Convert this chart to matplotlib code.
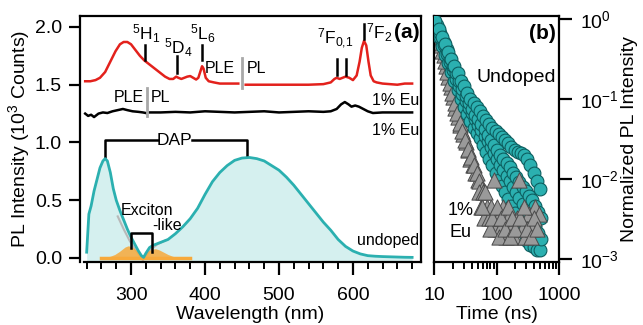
#!/usr/bin/env python3

import numpy as np
import matplotlib
matplotlib.use('Agg')
import matplotlib.pyplot as plt
from matplotlib.ticker import FixedLocator, MultipleLocator, NullLocator, FixedFormatter


# ---- panel (a): spectra ----
red_ple_wl = [238, 245, 252, 258, 265, 272, 279, 285, 290, 295, 300, 306, 312, 318, 322, 328, 334, 340,
              346, 352, 357, 361, 364, 368, 372, 376, 380, 384, 388, 391, 394, 396, 398, 401, 405, 412,
              420, 430, 445]
red_ple = [1.53, 1.53, 1.54, 1.56, 1.61, 1.70, 1.79, 1.85, 1.87, 1.87, 1.85, 1.80, 1.75, 1.71, 1.69, 1.66,
           1.63, 1.60, 1.57, 1.55, 1.55, 1.57, 1.56, 1.55, 1.56, 1.57, 1.575, 1.56, 1.545, 1.56, 1.62, 1.66,
           1.64, 1.56, 1.53, 1.52, 1.51, 1.51, 1.51]

red_pl_wl = [455, 480, 510, 540, 560, 570, 575, 578, 582, 586, 590, 595, 600, 605, 609, 612, 615, 618,
             621, 624, 628, 632, 640, 650, 660, 670, 680]
red_pl = [1.50, 1.50, 1.50, 1.50, 1.505, 1.52, 1.55, 1.56, 1.55, 1.56, 1.57, 1.56, 1.54, 1.58, 1.70, 1.82,
          1.88, 1.84, 1.70, 1.58, 1.53, 1.52, 1.51, 1.505, 1.50, 1.51, 1.51]

blk_ple_wl = [238, 242, 246, 250, 256, 262, 268, 275, 282, 289, 295, 302, 310, 316, 320]
blk_ple = [1.25, 1.23, 1.24, 1.22, 1.25, 1.26, 1.255, 1.27, 1.28, 1.29, 1.28, 1.27, 1.265, 1.26, 1.255]

blk_pl_wl = [325, 340, 360, 380, 400, 420, 440, 460, 480, 500, 520, 540, 560, 570, 578, 584, 589, 594,
             598, 603, 608, 614, 620, 627, 640, 660, 680]
blk_pl = [1.26, 1.26, 1.265, 1.26, 1.27, 1.265, 1.26, 1.265, 1.27, 1.26, 1.265, 1.27, 1.265, 1.27, 1.29,
          1.33, 1.35, 1.33, 1.31, 1.32, 1.31, 1.29, 1.27, 1.255, 1.26, 1.26, 1.26]

und_wl = [240, 243, 246, 250, 254, 258, 262, 265, 268, 272, 276, 280, 285, 290, 295, 300, 305, 310, 314,
          317, 320, 325, 330, 340, 350, 360, 370, 380, 390, 400, 410, 420, 430, 440, 450, 460, 470, 480,
          490, 500, 510, 520, 530, 540, 550, 560, 570, 580, 590, 600, 610, 620, 630, 640, 650, 660, 670, 680]
und = [0.05, 0.38, 0.45, 0.58, 0.68, 0.78, 0.84, 0.86, 0.84, 0.74, 0.60, 0.50, 0.41, 0.33, 0.25, 0.18,
       0.12, 0.06, 0.02, 0.005, 0.04, 0.09, 0.11, 0.135, 0.16, 0.21, 0.27, 0.34, 0.43, 0.55, 0.66, 0.74,
       0.80, 0.845, 0.865, 0.87, 0.86, 0.84, 0.80, 0.76, 0.70, 0.63, 0.55, 0.47, 0.39, 0.31, 0.24, 0.16,
       0.10, 0.06, 0.035, 0.02, 0.015, 0.012, 0.01, 0.008, 0.006, 0.005]

# faint grey fit lines under the exciton region
fit1_wl = [282, 290, 298, 306, 312, 316]
fit1 = [0.36, 0.25, 0.15, 0.07, 0.02, -0.02]
fit2_wl = [318, 326, 336, 346]
fit2 = [0.0, 0.07, 0.12, 0.15]

exc1_wl = [258, 265, 272, 278, 284, 288, 292, 296, 300, 304, 308, 312, 316, 320]
exc1 = [0.0, 0.005, 0.015, 0.03, 0.055, 0.075, 0.095, 0.105, 0.10, 0.085, 0.06, 0.035, 0.012, 0.0]
exc2_wl = [305, 312, 318, 323, 328, 333, 338, 344, 350, 356, 362, 370, 380]
exc2 = [0.0, 0.01, 0.035, 0.06, 0.075, 0.08, 0.07, 0.05, 0.03, 0.015, 0.005, 0.0, 0.0]

# ---- panel (b): decays ----
t_circ = [10.5, 12, 13.5, 15, 17, 19, 21, 24, 27, 30, 34, 38, 43, 48, 54, 61, 68, 77, 86, 97, 109, 122,
          137, 154, 173, 195, 219, 246, 276, 310, 349, 392, 440, 495]
t_circ2 = [11, 12.7, 14.3, 16, 18, 20, 22.5, 25.5, 28.5, 32, 36, 40.5, 45.5, 51, 57.5, 64.5, 72.5, 81.5,
           91.5, 103, 115, 129, 145, 163, 184, 207, 232, 261, 293, 330, 370, 416, 467, 520]
undoped_a = [0.95, 0.74, 0.6, 0.49, 0.39, 0.32, 0.26, 0.21, 0.17, 0.145, 0.12, 0.1, 0.088, 0.079, 0.071,
             0.062, 0.055, 0.049, 0.044, 0.04, 0.037, 0.034, 0.031, 0.028, 0.025, 0.023, 0.022, 0.021,
             0.02, 0.018, 0.015, 0.012, 0.0095, 0.0075]
undoped_b = [0.85, 0.66, 0.52, 0.42, 0.33, 0.26, 0.21, 0.17, 0.135, 0.11, 0.09, 0.075, 0.064, 0.056, 0.049,
             0.042, 0.036, 0.031, 0.027, 0.023, 0.02, 0.018, 0.016, 0.014, 0.012, 0.0105, 0.0092, 0.008,
             0.007, 0.0062, 0.0054, 0.0046, 0.0039, 0.0033]
undoped_c = [0.8, 0.6, 0.46, 0.36, 0.28, 0.22, 0.17, 0.13, 0.1, 0.08, 0.065, 0.053, 0.044, 0.038, 0.033,
             0.027, 0.022, 0.018, 0.015, 0.012, 0.0098, 0.0082, 0.0068, 0.0056, 0.0046, 0.0038, 0.0031,
             0.0025, 0.0021, 0.0017, 0.0015, 0.0014, 0.0013, 0.0013]
undoped_d = [0.78, 0.6, 0.47, 0.37, 0.29, 0.23, 0.18, 0.145, 0.115, 0.094, 0.078, 0.066, 0.056, 0.048,
             0.041, 0.035, 0.03, 0.025, 0.021, 0.018, 0.015, 0.013, 0.011, 0.0094, 0.008, 0.0068, 0.0058,
             0.0049, 0.0042, 0.0036, 0.003, 0.0025, 0.0021, 0.0018]

t_tri_a = [10.2, 11, 12, 13, 14.2, 15.5, 17, 18.5, 20, 22, 24, 26, 29, 32, 35, 38, 42, 46, 50]
eu_a = [1.0, 0.85, 0.62, 0.47, 0.36, 0.26, 0.19, 0.14, 0.105, 0.078, 0.06, 0.047, 0.037, 0.029, 0.023,
        0.018, 0.015, 0.012, 0.0098]
t_tri_b = [10.5, 11.5, 12.5, 13.6, 14.8, 16.2, 17.8, 19.5, 21.5, 23.5, 26, 28.5, 31.5, 35, 39, 43, 48, 53, 59]
eu_b = [0.9, 0.7, 0.52, 0.4, 0.3, 0.22, 0.16, 0.12, 0.088, 0.066, 0.05, 0.04, 0.031, 0.024, 0.019, 0.015,
        0.012, 0.0095, 0.0075]
t_tail_a = [52, 56, 60, 64, 70, 75, 82, 90, 96, 105, 115, 125, 140, 155, 170, 190, 210, 230, 260, 290,
            330, 370, 420, 470]
eu_tail_a = [0.0068, 0.0045, 0.0068, 0.0033, 0.0045, 0.0033, 0.0045, 0.0098, 0.0024, 0.0033, 0.0024,
             0.0045, 0.0019, 0.0033, 0.0024, 0.0019, 0.0033, 0.0098, 0.0024, 0.0019, 0.0037, 0.0024,
             0.0045, 0.0037]
t_tail_b = [58, 66, 78, 86, 100, 110, 120, 135, 150, 165, 180, 200, 240, 280, 310, 350, 400, 450]
eu_tail_b = [0.0045, 0.0068, 0.0024, 0.0033, 0.0045, 0.0019, 0.0033, 0.0024, 0.0045, 0.0019, 0.0033,
             0.0024, 0.0033, 0.0045, 0.0024, 0.0019, 0.0033, 0.0024]

a_yticks = [0.0, 0.5, 1.0, 1.5, 2.0]
a_xticks = [300, 400, 500, 600]
b_xticks = [10, 100, 1000]

TEAL = '#2bb0b0'
FILL = '#d5f0ef'
ORANGE = '#f7a93b'
RED = '#e3211c'
SEP = '#a8a8a8'

plt.rcParams['font.family'] = ['Liberation Sans', 'DejaVu Sans']
plt.rcParams['mathtext.fontset'] = 'custom'
plt.rcParams['mathtext.rm'] = 'Liberation Sans'
plt.rcParams['mathtext.it'] = 'Liberation Sans:italic'
plt.rcParams['mathtext.bf'] = 'Liberation Sans:bold'


def style_axes(ax):
    for s in ax.spines.values():
        s.set_linewidth(1.6)
    ax.tick_params(which='major', length=9, width=1.6, labelsize=14, direction='out', pad=5)
    ax.tick_params(which='minor', length=5, width=1.4, direction='out')
    ax.tick_params(axis='x', which='major', pad=9)


def panel_a(ax):
    ax.fill_between(und_wl, -0.05, und, color=FILL, lw=0, zorder=1)
    ax.plot(fit1_wl, fit1, color='#b8b8b8', lw=1.5, zorder=1.5)
    ax.plot(fit2_wl, fit2, color='#b8b8b8', lw=1.5, zorder=1.5)
    ax.fill_between(exc1_wl, 0, exc1, color=ORANGE, alpha=0.85, lw=0, zorder=2)
    ax.fill_between(exc2_wl, 0, exc2, color=ORANGE, alpha=0.85, lw=0, zorder=2)
    ax.plot([260, 380], [0, 0], color=ORANGE, lw=2.5, zorder=2)
    ax.plot(und_wl, und, color=TEAL, lw=2, zorder=3)

    ax.plot(red_ple_wl, red_ple, color=RED, lw=1.8)
    ax.plot(red_pl_wl, red_pl, color=RED, lw=1.8)
    ax.plot(blk_ple_wl, blk_ple, color='k', lw=1.8)
    ax.plot(blk_pl_wl, blk_pl, color='k', lw=1.8)

    # PLE | PL separators
    ax.plot([450, 450], [1.47, 1.73], color=SEP, lw=2)
    ax.text(441, 1.64, 'PLE', ha='right', va='center', fontsize=11.5)
    ax.text(457, 1.64, 'PL', ha='left', va='center', fontsize=11.5)
    ax.plot([322, 322], [1.23, 1.47], color=SEP, lw=2)
    ax.text(317, 1.39, 'PLE', ha='right', va='center', fontsize=11.5)
    ax.text(327, 1.39, 'PL', ha='left', va='center', fontsize=11.5)

    # Eu transitions
    marks = [(319, 1.71, 1.84), (362, 1.60, 1.75), (396, 1.71, 1.84),
             (578, 1.58, 1.72), (590, 1.58, 1.72), (615, 1.90, 2.03)]
    for x, y0, y1 in marks:
        ax.plot([x, x], [y0, y1], color='k', lw=1.8)
    ax.text(321, 1.94, r'$^5$H$_1$', ha='center', va='center', fontsize=12.5)
    ax.text(364, 1.82, r'$^5$D$_4$', ha='center', va='center', fontsize=12.5)
    ax.text(397, 1.94, r'$^5$L$_6$', ha='center', va='center', fontsize=12.5)
    ax.text(576, 1.90, r'$^7$F$_{0{,}1}$', ha='center', va='center', fontsize=12.5)
    ax.text(618, 1.95, r'$^7$F$_2$', ha='left', va='center', fontsize=12.5)
    ax.text(690, 1.95, '(a)', ha='right', va='center', fontsize=15, fontweight='bold')

    ax.text(690, 1.36, '1% Eu', ha='right', va='center', fontsize=11.5)
    ax.text(690, 1.10, '1% Eu', ha='right', va='center', fontsize=11.5)
    ax.text(690, 0.15, 'undoped', ha='right', va='center', fontsize=11.5)

    # DAP bracket
    ax.plot([265, 265, 336], [0.87, 1.02, 1.02], color='k', lw=1.8)
    ax.plot([382, 457, 457], [1.02, 1.02, 0.88], color='k', lw=1.8)
    ax.text(359, 1.02, 'DAP', ha='center', va='center', fontsize=12.5)

    # exciton bracket
    ax.plot([300, 300, 329, 329], [0.09, 0.22, 0.22, 0.05], color='k', lw=1.8, zorder=4)
    ax.text(321, 0.41, 'Exciton', ha='center', va='center', fontsize=11.5)
    ax.text(349, 0.28, '-like', ha='center', va='center', fontsize=11.5)

    ax.set_xlim(231, 692)
    ax.set_ylim(-0.035, 2.095)
    ax.xaxis.set_major_locator(FixedLocator(a_xticks))
    ax.xaxis.set_minor_locator(MultipleLocator(20))
    ax.yaxis.set_major_locator(FixedLocator(a_yticks))
    ax.set_yticklabels(['%.1f' % v for v in a_yticks])
    style_axes(ax)
    ax.tick_params(axis='y', which='major', length=8)
    ax.spines['bottom'].set_bounds(236, 692)
    ax.set_xlabel('Wavelength (nm)', fontsize=14)
    ax.xaxis.set_label_coords(0.5, -0.18)
    ax.set_ylabel('PL Intensity (10$^3$ Counts)', fontsize=14)
    ax.yaxis.set_label_coords(-0.14, 0.5)


def panel_b(ax):
    tri = dict(marker='^', s=120, color='#9a9a9a', edgecolors='#4a4a4a', linewidths=0.7)
    circ = dict(marker='o', s=85, color=TEAL, edgecolors='#0d5f60', linewidths=0.8)
    ax.scatter(t_tri_a, eu_a, zorder=2, **tri)
    ax.scatter(t_tri_b, eu_b, zorder=2, **tri)
    ax.scatter(t_circ, undoped_c, zorder=3, **circ)
    ax.scatter(t_circ2, undoped_d, zorder=3, **circ)
    ax.scatter(t_circ2, undoped_b, zorder=3, **circ)
    ax.scatter(t_circ, undoped_a, zorder=3, **circ)
    ax.scatter(t_tail_a, eu_tail_a, zorder=4, **tri)
    ax.scatter(t_tail_b, eu_tail_b, zorder=4, **tri)

    ax.set_xscale('log')
    ax.set_yscale('log')
    ax.set_xlim(10, 1000)
    ax.set_ylim(9.2e-4, 1.09)
    ax.xaxis.set_major_locator(FixedLocator(b_xticks))
    ax.xaxis.set_major_formatter(FixedFormatter([str(v) for v in b_xticks]))
    ax.yaxis.set_minor_locator(NullLocator())
    ax.yaxis.tick_right()
    ax.yaxis.set_label_position('right')
    style_axes(ax)
    ax.tick_params(axis='y', which='major', length=9, pad=6)
    ax.tick_params(axis='x', which='minor', labelbottom=False)

    ax.text(0.87, 0.93, '(b)', transform=ax.transAxes, ha='center', va='center',
            fontsize=15, fontweight='bold')
    ax.text(0.655, 0.75, 'Undoped', transform=ax.transAxes, ha='center', va='center', fontsize=14)
    ax.text(0.21, 0.21, '1%', transform=ax.transAxes, ha='center', va='center', fontsize=13)
    ax.text(0.21, 0.12, 'Eu', transform=ax.transAxes, ha='center', va='center', fontsize=13)

    ax.set_xlabel('Time (ns)', fontsize=14)
    ax.xaxis.set_label_coords(0.5, -0.18)
    ax.set_ylabel('Normalized PL Intensity', fontsize=14, rotation=90)
    ax.yaxis.set_label_coords(1.50, 0.5)


def main():
    fig = plt.figure(figsize=(6.43, 3.25), dpi=100)
    ax_a = fig.add_axes([80 / 643, 1 - 262 / 325, 341 / 643, 246 / 325])
    ax_b = fig.add_axes([434 / 643, 1 - 262 / 325, 125 / 643, 246 / 325])
    panel_a(ax_a)
    panel_b(ax_b)
    fig.savefig('out.png', dpi=100)


if __name__ == '__main__':
    main()
